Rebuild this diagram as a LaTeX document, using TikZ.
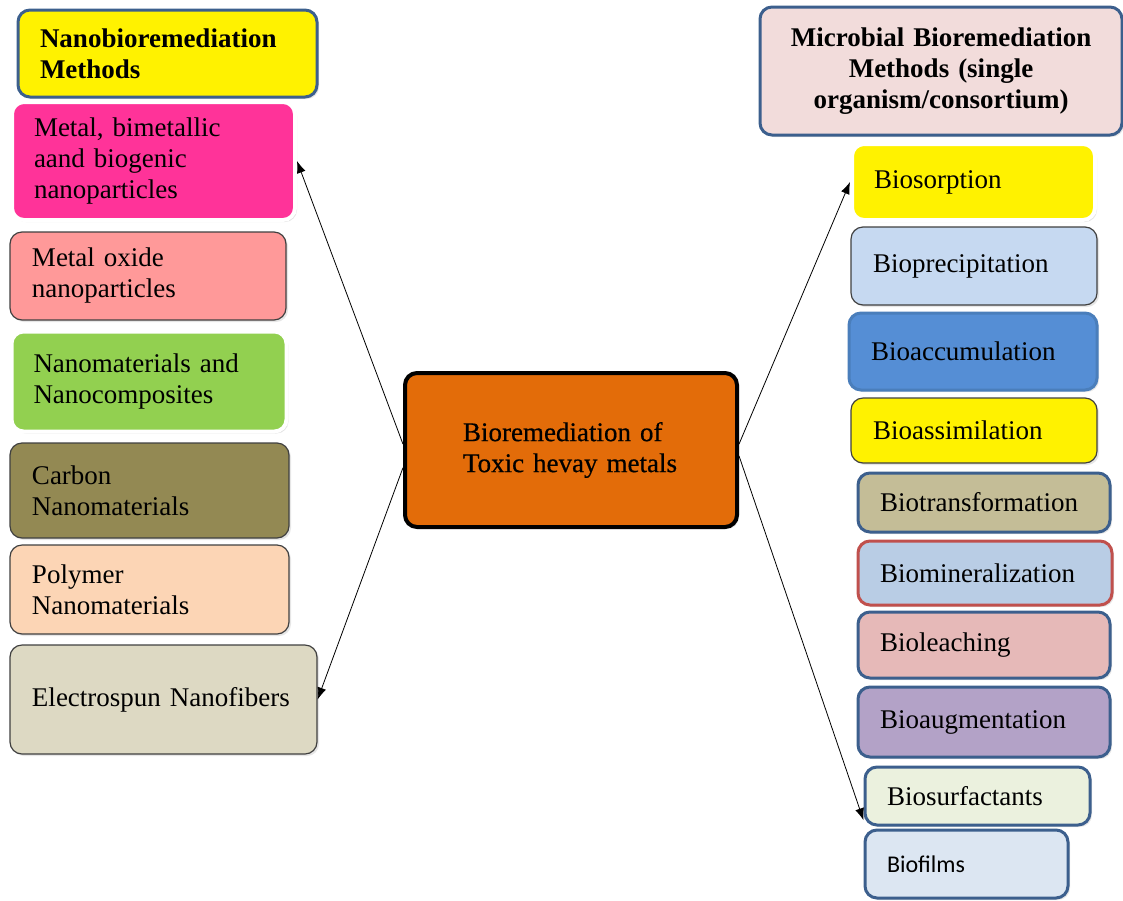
\documentclass[tikz,border=0pt]{standalone}
\usepackage{fontspec}
\setmainfont{Liberation Serif}
\newfontfamily\calibri{Carlito}
\newfontfamily\hubfont[FakeBold=0.5]{Liberation Serif}
\usepackage{tikz}
\usetikzlibrary{arrows.meta,shadows}

\definecolor{frame}{HTML}{3C5F8D}
\definecolor{hotpink}{HTML}{FF3399}
\definecolor{salmon}{HTML}{FF9999}
\definecolor{leaf}{HTML}{92D050}
\definecolor{olive}{HTML}{938953}
\definecolor{peach}{HTML}{FCD5B5}
\definecolor{sand}{HTML}{DDD9C3}
\definecolor{hubfill}{HTML}{E36C09}
\definecolor{rose}{HTML}{F2DCDB}
\definecolor{paleblue}{HTML}{C6D9F1}
\definecolor{midblue}{HTML}{558ED5}
\definecolor{midblueline}{HTML}{4A7EBB}
\definecolor{khaki}{HTML}{C4BD97}
\definecolor{steel}{HTML}{B9CDE5}
\definecolor{brick}{HTML}{C0504D}
\definecolor{dustpink}{HTML}{E6B9B8}
\definecolor{lilac}{HTML}{B3A2C7}
\definecolor{mint}{HTML}{EBF1DE}
\definecolor{ice}{HTML}{DCE6F2}

\begin{document}
\begin{tikzpicture}[x=0.5pt,y=-0.5pt,
	font=\fontsize{13.5}{15.5}\selectfont,
	>={Latex[length=6pt,width=4.5pt]},
	box/.style={rectangle,rounded corners=6pt,align=left,inner xsep=11pt,inner ysep=3pt,
		drop shadow={opacity=0.2,shadow xshift=1pt,shadow yshift=-1pt}},
	thinbox/.style={box,draw=black!75,line width=0.6pt},
	bluebox/.style={box,draw=frame,line width=1.5pt},
	whitebox/.style={box,draw=white,line width=2pt,
		drop shadow={opacity=0.35,shadow xshift=0.6pt,shadow yshift=-0.8pt}},
	headbox/.style={bluebox,font=\fontsize{13.5}{15.5}\selectfont\bfseries}]
		\useasboundingbox (0,0) rectangle (1123,900);
%		\draw[help lines,step=50] (0,0) grid (1123,900);

		% centre
		\path (571,453) node(hub) [box,draw=black,line width=2pt,fill=hubfill,inner xsep=29pt,text width=108pt,minimum height=77pt,yshift=1.5pt,font=\hubfont\fontsize{13.5}{15.5}\selectfont] {Bioremediation of\\Toxic hevay metals};

		% nano side
		\path (167.5,53.5) node(nanohead) [headbox,fill=yellow,text width=127.5pt,minimum height=43.5pt] {Nanobioremediation\\Methods};
		\path (153.5,161) node(metal) [whitebox,fill=hotpink,text width=119.5pt,minimum height=59pt] {Metal, bimetallic\\aand biogenic\\nanoparticles};
		\path (148,276) node(oxide) [thinbox,fill=salmon,text width=116pt,minimum height=44pt] {Metal oxide\\nanoparticles};
		\path (149,381.5) node(nanomat) [whitebox,fill=leaf,text width=115.5pt,minimum height=50pt] {Nanomaterials and\\Nanocomposites};
		\path (149.5,490.5) node(carbon) [thinbox,fill=olive,text width=117.5pt,minimum height=47.5pt] {Carbon\\Nanomaterials};
		\path (149.5,589.5) node(polymer) [thinbox,fill=peach,text width=117.5pt,minimum height=44.5pt] {Polymer\\Nanomaterials};
		\path (163.5,699.5) node(electro) [thinbox,fill=sand,text width=131.5pt,minimum height=54.5pt] {Electrospun Nanofibers};

		% microbial side
		\path (941,71) node(microhead) [headbox,fill=rose,align=center,text width=159pt,minimum height=64pt] {Microbial Bioremediation\\Methods (single\\organism/consortium)};
		\path (973.5,182) node(sorption) [whitebox,fill=yellow,text width=99.5pt,minimum height=38pt] {Biosorption};
		\path (974,266) node(precip) [thinbox,fill=paleblue,text width=101pt,minimum height=39pt] {Bioprecipitation};
		\path (973,351.5) node(accum) [box,draw=midblueline,line width=1.5pt,fill=midblue,text width=102pt,minimum height=38.5pt] {Bioaccumulation};
		\path (974,430.5) node(assim) [thinbox,fill=yellow,text width=101pt,minimum height=32.5pt] {Bioassimilation};
		\path (984,502.5) node(transf) [bluebox,fill=khaki,text width=104pt,minimum height=29.5pt] {Biotransformation};
		\path (985,573) node(mineral) [box,draw=brick,line width=1.5pt,fill=steel,text width=105pt,minimum height=32pt] {Biomineralization};
		\path (984,645) node(leach) [bluebox,fill=dustpink,text width=104pt,minimum height=33pt] {Bioleaching};
		\path (984,722) node(augment) [bluebox,fill=lilac,text width=104pt,minimum height=35pt] {Bioaugmentation};
		\path (977.5,796) node(surf) [bluebox,fill=mint,text width=90.5pt,minimum height=29pt] {Biosurfactants};
		\path (966.5,864) node(films) [bluebox,fill=ice,text width=79.5pt,minimum height=34pt,font=\calibri\fontsize{12}{14}\selectfont] {Biofilms};

		% connectors
		\draw[->] (hub.178) -- (metal.east);
		\draw[->] (hub.186) -- (electro.east);
		\draw[->] (hub.2) -- (sorption.west);
		\draw[->] (hub.358) -- (surf.192);
\end{tikzpicture}
\end{document}
